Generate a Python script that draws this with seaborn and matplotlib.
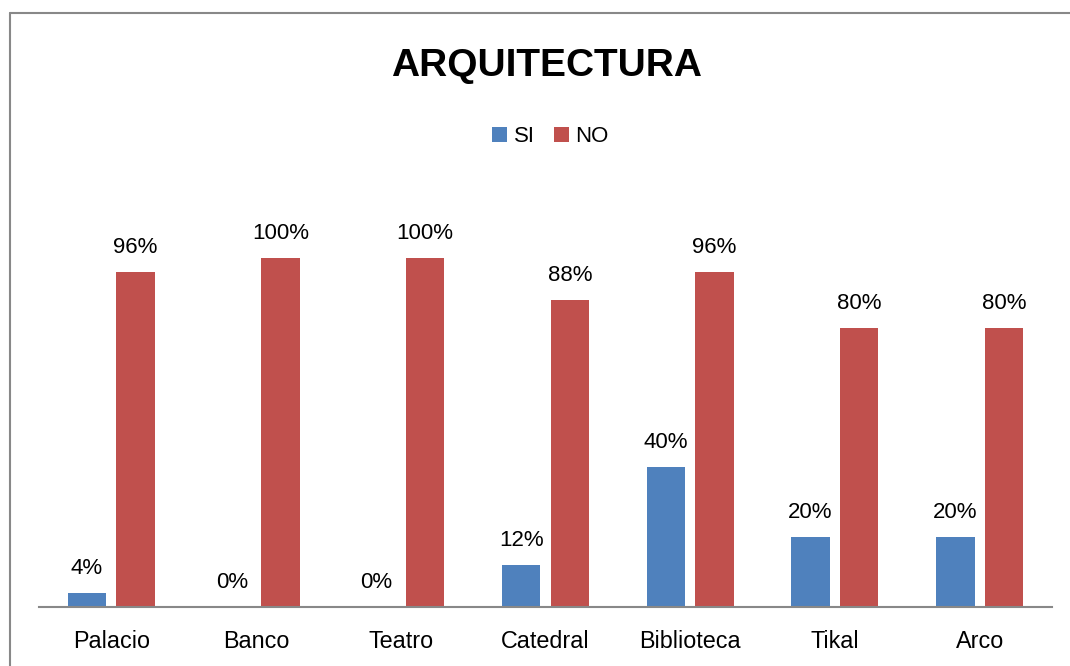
import matplotlib
matplotlib.use("Agg")
import matplotlib.pyplot as plt
import seaborn as sns
import pandas as pd
from matplotlib.lines import Line2D
from matplotlib.patches import Patch

categories = ["Palacio", "Banco", "Teatro", "Catedral", "Biblioteca", "Tikal", "Arco"]
si_values = [4, 0, 0, 12, 40, 20, 20]
no_values = [96, 100, 100, 88, 96, 80, 80]
series = ["SI", "NO"]
colors = ["#4F81BD", "#C0504D"]

df = pd.DataFrame({
    "cat": categories * 2,
    "serie": ["SI"] * len(categories) + ["NO"] * len(categories),
    "val": si_values + no_values,
})

sns.set_theme(style="white")
plt.rcParams["font.family"] = ["Liberation Sans", "DejaVu Sans"]

fig = plt.figure(figsize=(10.70, 6.66), dpi=100)
ax = fig.add_axes([39 / 1070, 59.5 / 666, (1052 - 39) / 1070, (606.5 - 160) / 666])

sns.barplot(data=df, x="cat", y="val", hue="serie", order=categories,
            hue_order=series, palette=colors, width=0.672, gap=0.21,
            saturation=1, ax=ax, legend=False, linewidth=0)

for cont in ax.containers:
    ax.bar_label(cont, fmt="%d%%", padding=10, fontsize=16, color="#000000")

ax.set_ylim(0, 128.1)
ax.set_xlim(-0.5, len(categories) - 0.5)
ax.set_xlabel("")
ax.set_ylabel("")
ax.set_yticks([])
ax.tick_params(axis="x", length=0, pad=17, labelsize=16.8, labelcolor="#000000")
for s in ["top", "right", "left"]:
    ax.spines[s].set_visible(False)
ax.spines["bottom"].set_color("#888888")
ax.spines["bottom"].set_linewidth(1.5)

fig.text(0.5105, 1 - 66 / 666, "ARQUITECTURA", ha="center", va="center",
         fontsize=28, fontweight="bold", color="#000000")

handles = [Patch(facecolor=c, edgecolor="none") for c in colors]
fig.legend(handles, series, loc="center", bbox_to_anchor=(550.5 / 1070, 1 - 137 / 666),
           ncol=2, frameon=False, fontsize=16, handlelength=0.68, handleheight=0.68,
           handletextpad=0.29, columnspacing=0.87, labelcolor="#000000")

# chart-area border (left and top edges visible)
fig.add_artist(Line2D([9.5 / 1070, 9.5 / 1070], [0, 1 - 12.5 / 666],
                      transform=fig.transFigure, color="#888888", lw=1.5))
fig.add_artist(Line2D([9.5 / 1070, 1], [1 - 12.5 / 666, 1 - 12.5 / 666],
                      transform=fig.transFigure, color="#888888", lw=1.5))

fig.savefig("out.png", dpi=100, facecolor="white")
